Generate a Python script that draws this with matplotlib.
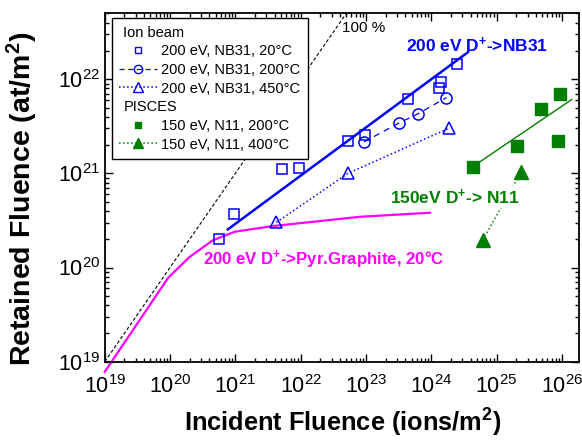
import numpy as np
import matplotlib
matplotlib.use("Agg")
import matplotlib.pyplot as plt
from matplotlib.lines import Line2D
from matplotlib.ticker import LogLocator, NullFormatter

plt.rcParams['font.family'] = ['Liberation Sans', 'DejaVu Sans']
plt.rcParams['mathtext.fontset'] = 'custom'
plt.rcParams['mathtext.rm'] = 'Liberation Sans'
plt.rcParams['mathtext.it'] = 'Liberation Sans:italic'
plt.rcParams['mathtext.bf'] = 'Liberation Sans:bold'

# Ion beam, 200 eV D+ -> NB31
nb31_20_x = [5.6e20, 9.7e20, 5.2e21, 9.6e21, 5.3e22, 9.6e22, 4.4e23, 1.33e24, 1.41e24, 2.5e24]
nb31_20_y = [2.0e20, 3.7e20, 1.1e21, 1.14e21, 2.2e21, 2.55e21, 6.2e21, 8.1e21, 9.25e21, 1.46e22]
nb31_200_x = [9.35e22, 3.24e23, 6.17e23, 1.71e24]
nb31_200_y = [2.16e21, 3.44e21, 4.27e21, 6.38e21]
nb31_450_x = [4.25e21, 5.3e22, 1.89e24]
nb31_450_y = [3.02e20, 1.0e21, 3.03e21]
nb31_fit_x = [7.66e20, 3.66e24]
nb31_fit_y = [2.54e20, 1.94e22]

# PISCES, 150 eV D+ -> N11
n11_200_x = [4.42e24, 2.08e25, 4.8e25, 9.4e25, 8.8e25]
n11_200_y = [1.16e21, 1.94e21, 4.85e21, 6.95e21, 2.19e21]
n11_400_x = [6.15e24, 2.37e25]
n11_400_y = [1.96e20, 1.03e21]
n11_fit_x = [4.98e24, 1.42e26]
n11_fit_y = [1.26e21, 6.1e21]

# 200 eV D+ -> pyrolytic graphite, 20 C
pg_x = [1e19, 9.4e19, 1.98e20, 4.48e20, 9.8e20, 3.8e21, 8.1e22, 9.6e23]
pg_y = [7.8e18, 7.8e19, 1.29e20, 1.94e20, 2.4e20, 2.76e20, 3.46e20, 3.82e20]

# 100 % retention (retained = incident)
full_x = [1e19, 1e23]
full_y = [1e19, 1e23]

blue = '#0000ff'
green = '#007f00'
magenta = '#ff00ff'

fig = plt.figure(figsize=(5.82, 4.43), dpi=100)
ax = fig.add_axes([0.1799, 0.1835, 0.815, 0.787])
ax.set_xscale('log')
ax.set_yscale('log')

ax.plot(full_x, full_y, color='black', ls=(0, (3, 2)), lw=0.8)
ax.plot(pg_x, pg_y, color=magenta, lw=1.6, clip_on=False)

ax.plot(nb31_fit_x, nb31_fit_y, color=blue, lw=1.8)
ax.plot(nb31_20_x, nb31_20_y, ls='none', marker='s', ms=7.5, mfc='none', mec=blue, mew=1.1)
ax.plot(nb31_200_x, nb31_200_y, color=blue, ls=(0, (5, 4)), lw=0.9,
        marker='o', ms=8, mfc='none', mec=blue, mew=1.1)
ax.plot(nb31_450_x, nb31_450_y, color=blue, ls=':', lw=1.1,
        marker='^', ms=9, mfc='none', mec=blue, mew=1.1)

ax.plot(n11_fit_x, n11_fit_y, color=green, lw=1.0)
ax.plot(n11_200_x, n11_200_y, ls='none', marker='s', ms=8.5, color=green)
ax.plot(n11_400_x, n11_400_y, color=green, ls=':', lw=1.1, marker='^', ms=9.5)

ax.text(4.3e22, 3.5e22, '100 %', fontsize=11, va='center', ha='left')
ax.text(4.1e23, 2.3e22, r'200 eV D$^{\mathbf{+}}$->NB31', color=blue,
        fontsize=12.5, fontweight='bold', va='center', ha='left')
ax.text(2.34e23, 5.6e20, r'150eV D$^{\mathbf{+}}$-> N11', color=green,
        fontsize=12.5, fontweight='bold', va='center', ha='left', zorder=5,
        bbox=dict(facecolor='white', edgecolor='none', pad=1))
ax.text(3.2e20, 1.22e20, r'200 eV D$^{\mathbf{+}}$->Pyr.Graphite, 20°C', color=magenta,
        fontsize=12.1, fontweight='bold', va='center', ha='left')

ax.set_xlim(1e19, 1.83e26)
ax.set_ylim(1e19, 5.04e22)

ax.xaxis.set_major_locator(LogLocator(base=10, numticks=20))
ax.xaxis.set_minor_locator(LogLocator(base=10, subs=np.arange(2, 10), numticks=20))
ax.xaxis.set_minor_formatter(NullFormatter())
ax.yaxis.set_major_locator(LogLocator(base=10, numticks=20))
ax.yaxis.set_minor_locator(LogLocator(base=10, subs=np.arange(2, 10), numticks=20))
ax.yaxis.set_minor_formatter(NullFormatter())
ax.tick_params(which='both', direction='in', top=True, right=True, width=1.0)
ax.tick_params(which='major', length=6, labelsize=15.5)
ax.tick_params(which='minor', length=3)
ax.tick_params(axis='x', which='major', pad=10)
ax.tick_params(axis='y', which='major', pad=3)
for s in ax.spines.values():
    s.set_linewidth(1.3)

ax.set_xlabel(r'Incident Fluence (ions/m$^{\mathbf{2}}$)', fontsize=18.3, fontweight='bold')
ax.set_ylabel(r'Retained Fluence (at/m$^{\mathbf{2}}$)', fontsize=20.5, fontweight='bold')
ax.xaxis.set_label_coords(0.501, -0.13)
ax.yaxis.set_label_coords(-0.137, 0.4666)

handles = [
    Line2D([], [], ls='none', marker='none'),
    Line2D([], [], ls='none', marker='s', ms=5, mfc='none', mec=blue),
    Line2D([], [], color=blue, ls=(0, (4, 3)), lw=0.9, marker='o', ms=6, mfc='none', mec=blue),
    Line2D([], [], color=blue, ls=':', lw=1.1, marker='^', ms=6.5, mfc='none', mec=blue),
    Line2D([], [], ls='none', marker='none'),
    Line2D([], [], ls='none', marker='s', ms=5, color=green),
    Line2D([], [], color=green, ls=':', lw=1.1, marker='^', ms=6.5),
]
labels = ['Ion beam', '200 eV, NB31, 20°C', '200 eV, NB31, 200°C', '200 eV, NB31, 450°C',
          'PISCES', '150 eV, N11, 200°C', '150 eV, N11, 400°C']
leg = ax.legend(handles, labels, loc='upper left', bbox_to_anchor=(0.0148, 0.985),
                borderaxespad=0, fontsize=10.5, frameon=True, fancybox=False,
                edgecolor='black', framealpha=1, handlelength=2.6, handletextpad=0.3,
                labelspacing=0.32, borderpad=0.5)
leg.get_frame().set_linewidth(1.0)

# group headers sit flush left, without a handle slot
for col in leg._legend_handle_box.get_children():
    for row in col.get_children():
        box, txt = row.get_children()
        if txt.get_text() in ('Ion beam', 'PISCES'):
            box.set_width(0)

fig.savefig('out.png', dpi=100)
